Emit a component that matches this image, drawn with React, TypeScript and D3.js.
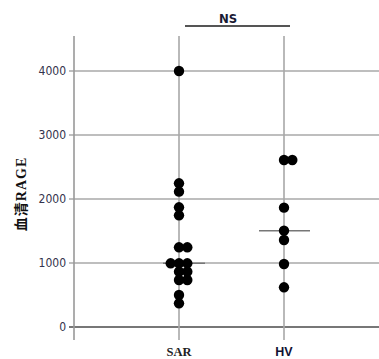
import * as d3 from "d3"

const categories = ["SAR", "HV"]
const sarValues = [4000, 2245, 2115, 1870, 1745, 1245, 1245, 995, 995, 995, 865, 865, 735, 735, 500, 370]
const hvValues = [2610, 2610, 1865, 1505, 1360, 985, 620]
const yTicks = [0, 1000, 2000, 3000, 4000]
const yLabel = "血清RAGE"
const sigLabel = "NS"

// beeswarm: identical values spread 0, +1, -1, +2 ...
function swarm(values: number[]) {
    const seen = new Map<number, number>()
    return values.map((v) => {
        const n = seen.get(v) ?? 0
        seen.set(v, n + 1)
        const k = n === 0 ? 0 : n % 2 === 1 ? (n + 1) / 2 : -n / 2
        return { v, k }
    })
}

export default function App() {
    const width = 379
    const height = 359
    const left = 74
    const top = 36
    const bottom = 340

    const x = d3.scalePoint<string>().domain(categories).range([left, 389]).padding(1)
    const y = d3.scaleLinear().domain([0, 4000]).range([327, 71])

    const groups = [
        { name: "SAR", values: sarValues, med: [-16, 26] },
        { name: "HV", values: hvValues, med: [-25, 26] },
    ]
    const spacing = 8.3
    const gridColor = "#a8a8a8"
    const tickColor = "#33334d"

    return (
        <svg
            width={width}
            height={height}
            style={{ position: "absolute", left: 0, top: 0, display: "block", background: "#fff" }}
        >
            {/* Horizontal grid */}
            {yTicks.map((t) => (
                <g key={t}>
                    <line
                        x1={left - 5}
                        x2={width}
                        y1={y(t)}
                        y2={y(t)}
                        stroke={t === 0 ? "#777" : gridColor}
                        strokeWidth={t === 0 ? 2 : 1.6}
                    />
                    <text
                        x={left - 8}
                        y={y(t)}
                        dy="0.35em"
                        textAnchor="end"
                        fontSize="12"
                        fontFamily="DejaVu Sans Condensed, Liberation Sans, sans-serif"
                        fill={tickColor}
                    >
                        {t}
                    </text>
                </g>
            ))}

            {/* Y axis line and category lines */}
            <line x1={left} x2={left} y1={top} y2={bottom} stroke="#999" strokeWidth={1.6} />
            {categories.map((c) => (
                <line key={c} x1={x(c)} x2={x(c)} y1={top} y2={bottom} stroke={gridColor} strokeWidth={1.6} />
            ))}

            {/* Medians */}
            {groups.map((g) => {
                const m = d3.median(g.values) ?? 0
                const cx = x(g.name) ?? 0
                return (
                    <line
                        key={g.name}
                        x1={cx + g.med[0]}
                        x2={cx + g.med[1]}
                        y1={y(m)}
                        y2={y(m)}
                        stroke="#777"
                        strokeWidth={1.6}
                    />
                )
            })}

            {/* Points */}
            {groups.map((g) =>
                swarm(g.values).map((d, i) => (
                    <circle
                        key={`${g.name}-${i}`}
                        cx={(x(g.name) ?? 0) + d.k * spacing}
                        cy={y(d.v)}
                        r={5.2}
                        fill="#000"
                    />
                ))
            )}

            {/* Significance bar */}
            <line x1={185} x2={290} y1={26} y2={26} stroke="#555" strokeWidth={1.8} />
            <text
                x={228}
                y={23}
                textAnchor="middle"
                fontSize="13"
                fontWeight="bold"
                fontFamily="DejaVu Sans Condensed, sans-serif"
                fill="#1a1a33"
            >
                {sigLabel}
            </text>

            {/* Category labels */}
            <text
                x={x("SAR")}
                y={356}
                textAnchor="middle"
                fontSize="12.5"
                fontWeight="bold"
                fontFamily="Liberation Serif, serif"
                fill="#222"
            >
                SAR
            </text>
            <text
                x={x("HV")}
                y={356}
                textAnchor="middle"
                fontSize="12.5"
                fontWeight="bold"
                fontFamily="Liberation Sans, sans-serif"
                fill="#111133"
            >
                HV
            </text>

            {/* Y label */}
            <text
                transform="translate(26,194) rotate(-90)"
                textAnchor="middle"
                fontSize="14"
                fontWeight="bold"
                letterSpacing="1"
                fontFamily="Liberation Serif, Noto Sans CJK SC, serif"
                fill="#111"
            >
                {yLabel}
            </text>
        </svg>
    )
}
